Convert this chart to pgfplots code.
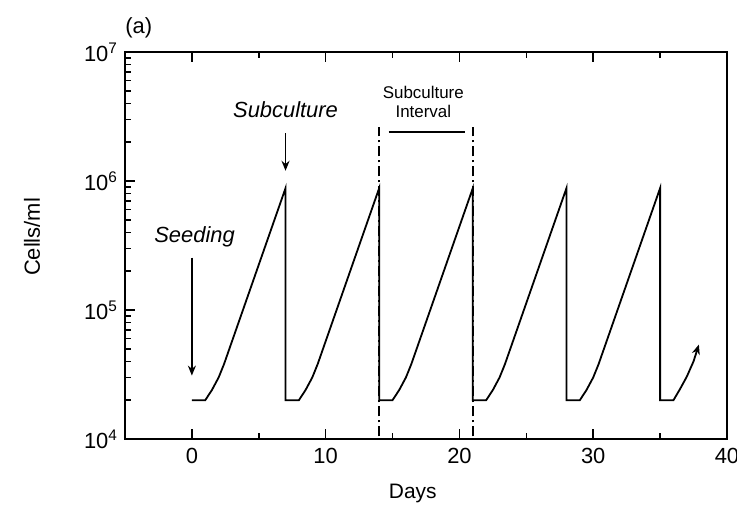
\documentclass[border=0pt]{standalone}
\usepackage{pgfplots}
\pgfplotsset{compat=1.18}
\usepackage{fontspec}
\setmainfont{Liberation Sans}
\usetikzlibrary{arrows.meta}
\begin{document}
\begin{tikzpicture}
\useasboundingbox (-62.5bp,-33.5bp) rectangle (306bp,219.5bp);
\begin{axis}[
  scale only axis, width=301bp, height=193.5bp,
  ymode=log, xmin=-5, xmax=40, ymin=1e4, ymax=1e7,
  xtick={0,10,20,30,40}, minor xtick={-5,5,15,25,35},
  ytick={1e4,1e5,1e6,1e7},
  yticklabels={10\textsuperscript{4},10\textsuperscript{5},10\textsuperscript{6},10\textsuperscript{7}},
  ytick pos=left, xtick pos=both,
  tick align=inside,
  major tick length=5bp, minor tick length=3bp,
  axis line style={line width=1bp},
  every tick/.style={line width=0.8bp, black},
  /pgf/number format/assume math mode=true,
  tick label style={font=\fontsize{11}{13}\selectfont},
  xticklabel style={yshift=-1bp},
  xlabel={Days}, ylabel={Cells/ml},
  label style={font=\fontsize{10.5}{12.5}\selectfont},
  xlabel style={at={(axis description cs:0.478,-0.14)}, anchor=center},
  ylabel style={at={(axis description cs:-0.1545,0.522)}, anchor=center, font=\fontsize{11}{13}\selectfont},
  clip=false,
]
\addplot[black, line width=0.9bp, -{Stealth[length=5bp,width=4bp]}] coordinates {
 (0,2e4) (1,2e4) (1.5,2.4e4) (2,3.0e4) (2.4,3.8e4) (7,8.8e5) (7,2e4)
 (8,2e4) (8.5,2.4e4) (9,3.0e4) (9.4,3.8e4) (14,8.8e5) (14,2e4)
 (15,2e4) (15.5,2.4e4) (16,3.0e4) (16.4,3.8e4) (21,8.8e5) (21,2e4)
 (22,2e4) (22.5,2.4e4) (23,3.0e4) (23.4,3.8e4) (28,8.8e5) (28,2e4)
 (29,2e4) (29.5,2.4e4) (30,3.0e4) (30.4,3.8e4) (35,8.8e5) (35,2e4)
 (36,2e4) (36.5,2.45e4) (37,3.05e4) (37.5,4.0e4) (37.9,5.4e4)
};
\addplot[black, line width=0.7bp, dash pattern=on 5bp off 2bp on 1bp off 2bp] coordinates {(14,1.05e4) (14,2.6e6)};
\addplot[black, line width=0.7bp, dash pattern=on 5bp off 2bp on 1bp off 2bp] coordinates {(21,1.05e4) (21,2.6e6)};
\draw[line width=0.7bp] (axis cs:14.7,2.4e6) -- (axis cs:20.4,2.4e6);
\node[font=\fontsize{8.5}{9.5}\selectfont, align=center] at (axis cs:17.3,4.1e6) {Subculture\\Interval};
\node[font=\fontsize{11}{13}\itshape] at (axis cs:7,3.6e6) {Subculture};
\draw[line width=0.8bp, -{Stealth[length=5bp,width=4bp]}] (axis cs:7,2.34e6) -- (axis cs:7,1.2e6);
\node[font=\fontsize{11}{13}\itshape] at (axis cs:0.2,3.7e5) {Seeding};
\draw[line width=0.8bp, -{Stealth[length=5bp,width=4bp]}] (axis cs:0,2.55e5) -- (axis cs:0,3.1e4);
\node[font=\fontsize{11}{13}\selectfont, anchor=west, inner sep=0pt] at (rel axis cs:0,1.062) {(a)};
\end{axis}
\end{tikzpicture}
\end{document}
